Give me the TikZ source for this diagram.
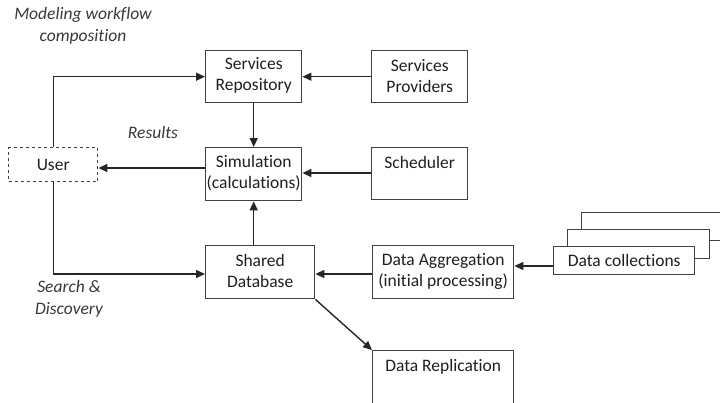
\documentclass[tikz,border=0pt]{standalone}
\usepackage{fontspec}
\setmainfont{Carlito}[Ligatures=NoCommon]
\usetikzlibrary{arrows.meta}
\begin{document}
\begin{tikzpicture}[x=1pt,y=-1pt,
  box/.style={draw=black!75, line width=1.4pt, fill=white, anchor=north west,
    align=center, inner sep=0pt, text=black!88,
    font=\fontsize{17.5}{21}\selectfont},
  arr/.style={-{Triangle[length=9pt,width=8pt]}, line width=1.4pt, draw=black!85},
  lbl/.style={font=\itshape\fontsize{17.5}{22}\selectfont, align=center, text=black!78}]
\useasboundingbox (0,0) rectangle (720,402);
\clip (0,0) rectangle (720,402);
% boxes
\node[box, minimum width=96pt, minimum height=52pt] (sr) at (205,50) {Services\\Repository\vphantom{g}\vspace{2pt}};
\node[box, minimum width=96pt, minimum height=52pt] (sp) at (371,50) {Services\\Providers\vspace{2pt}};
\node[box, dashed, minimum width=89pt, minimum height=34pt] (user) at (8,147) {User};
\node[box, minimum width=96pt, minimum height=53pt] (sim) at (205,147) {Simulation\\(calculations)\vspace{2pt}};
\node[box, minimum width=96pt, minimum height=52pt] (sch) at (371,147) {Scheduler\\\mbox{}\vspace{2pt}};
\node[box, minimum width=109pt, minimum height=53pt] (sd) at (205,245) {Shared\\Database\vspace{2pt}};
\node[box, minimum width=141pt, minimum height=53pt] (da) at (372,245) {Data Aggregation\\(initial processing)\vspace{2pt}};
\node[box, minimum width=160pt, minimum height=28pt] (dc3) at (581,212) {};
\node[box, minimum width=142pt, minimum height=29pt] (dc2) at (567,229) {};
\node[box, minimum width=141pt, minimum height=28pt] (dc) at (553,246) {Data collections};
\node[box, minimum width=141pt, minimum height=56pt] (dr) at (372,350) {Data Replication\\\mbox{}\vspace{6pt}};
% labels
\node[lbl] (l1) at (83,26) {Modeling workflow\\composition};
\node[lbl] (l2) at (153,132) {Results};
\node[lbl] (l3) at (69,299) {Search \&\\Discovery};
% connectors
\draw[arr] (user.north) |- (sr.west);
\draw[arr] (sp.west) -- (sr.east);
\draw[arr] (sr.south) -- (sim.north);
\draw[arr] (sim.west |- 0,168) -- (user.east |- 0,168);
\draw[arr] (sch.west |- 0,173) -- (sim.east |- 0,173);
\draw[arr] (sim.south |- sd.north) -- (sim.south);
\draw[arr] (user.south) |- (sd.west |- 0,274);
\draw[arr] (da.west |- 0,274) -- (sd.east |- 0,274);
\draw[arr] (dc.west |- 0,266) -- (da.east |- 0,266);
\draw[arr] (sd.south east) -- (dr.north west);
\end{tikzpicture}
\end{document}
